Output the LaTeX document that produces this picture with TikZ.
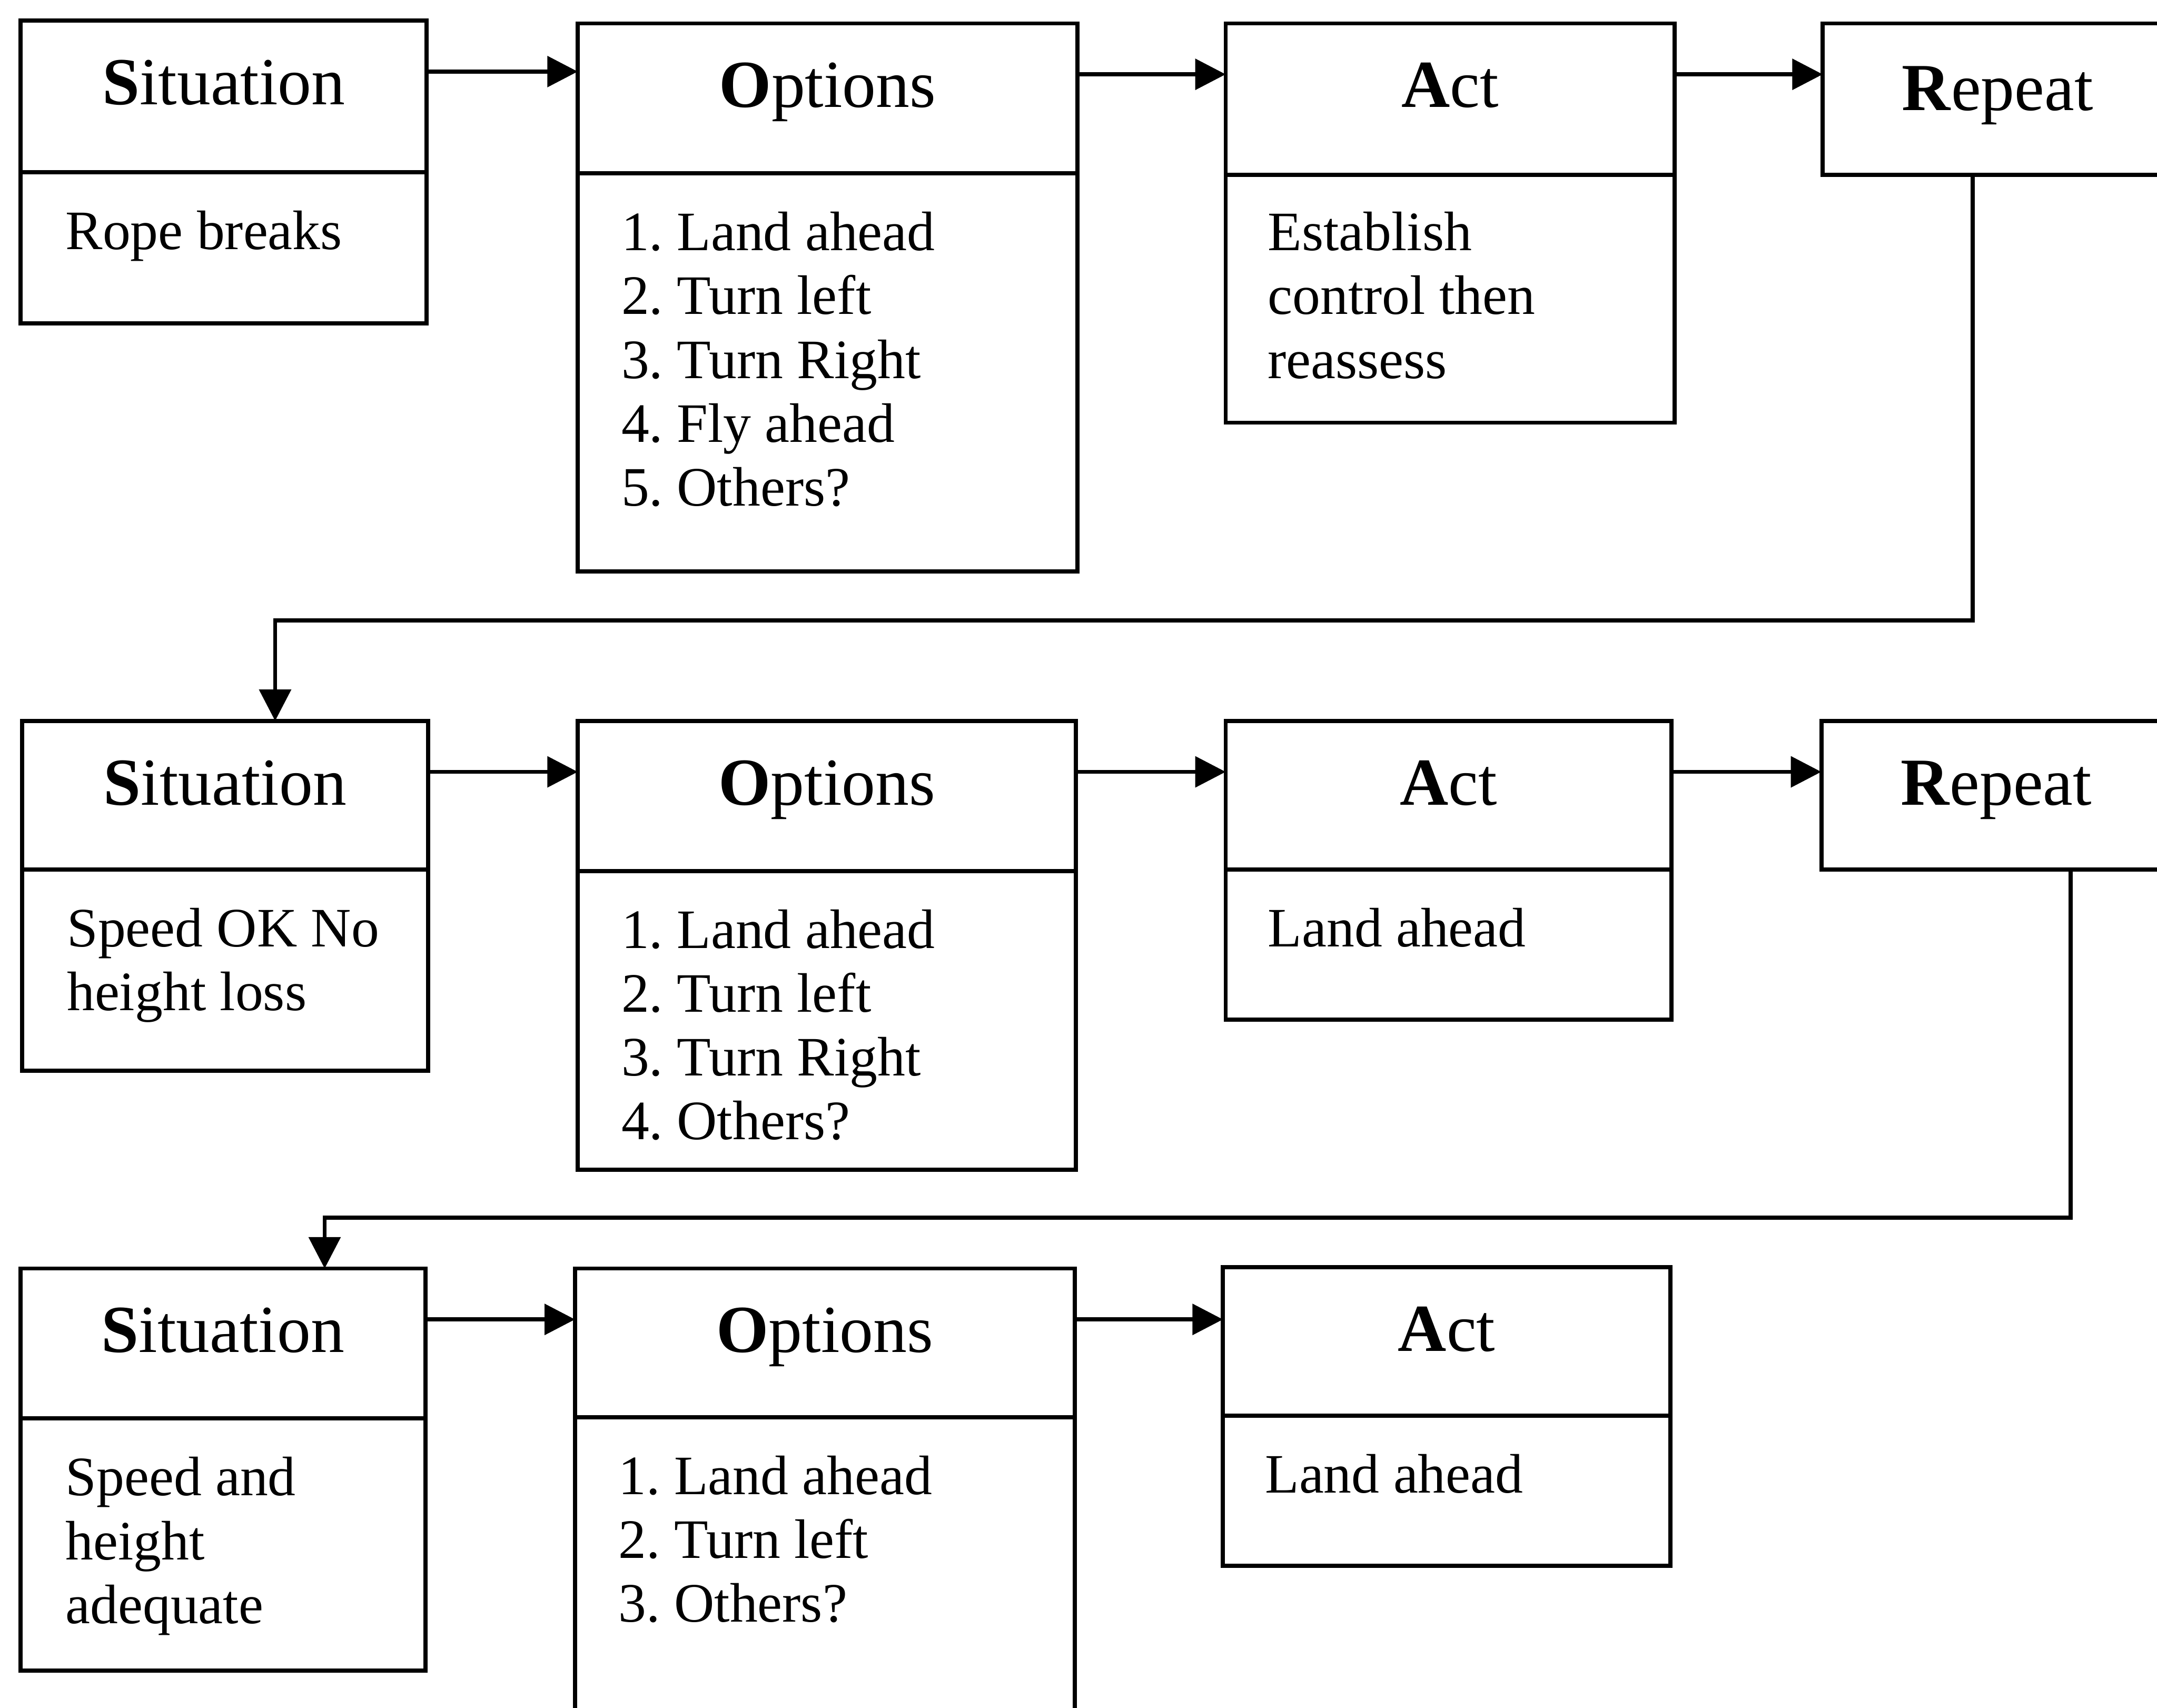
\documentclass[tikz,border=0pt]{standalone}
\usepackage{fontspec}
\setmainfont{Liberation Serif}
\usetikzlibrary{arrows.meta}

\newcommand{\ttlfont}{\fontsize{13.9}{16}\selectfont}
\newcommand{\bodyfont}{\fontsize{11.5}{13.2}\selectfont\frenchspacing}
% first-line baseline of a stack of left-aligned lines
\newcommand{\rows}[1]{\begin{tabular}[t]{@{}l@{}}#1\end{tabular}}

\begin{document}
\begin{tikzpicture}[x=0.01cm, y=-0.01cm,
  cell/.style={draw, line width=0.85pt, rectangle, inner sep=0pt, outer sep=0pt, minimum width=#1},
  ttl/.style={anchor=base, inner sep=0pt, font=\ttlfont},
  txt/.style={anchor=base west, inner sep=0pt, font=\bodyfont},
  arr/.style={line width=0.85pt, -{Triangle[length=6.3pt, width=6.3pt]}},
  back/.style={line width=0.85pt, -{Triangle[length=6.5pt, width=6.5pt]}}]

\useasboundingbox (0,0) rectangle (1568,1241.4);

% ---------- first pass ----------
\node[cell=2.95cm, minimum height=1.10cm, anchor=north west] (s1h) at (15,15) {};
\node[cell=2.95cm, minimum height=1.10cm, anchor=north] (s1b) at (s1h.south) {};
\node[ttl] (s1t) at ([yshift=-0.61cm]s1h.north) {\textbf{S}ituation};
\node[txt] (s1x) at ([xshift=0.32cm,yshift=-0.56cm]s1b.north west) {\rows{Rope breaks}};

\node[cell=3.63cm, minimum height=1.09cm, anchor=north west] (o1h) at (420,17) {};
\node[cell=3.63cm, minimum height=2.89cm, anchor=north] (o1b) at (o1h.south) {};
\node[ttl] (o1t) at ([yshift=-0.61cm]o1h.north) {\textbf{O}ptions};
\node[txt] (o1x) at ([xshift=0.31cm,yshift=-0.56cm]o1b.north west)
  {\rows{1. Land ahead\\2. Turn left\\3. Turn Right\\4. Fly ahead\\5. Others?}};

\node[cell=3.26cm, minimum height=1.10cm, anchor=north west] (a1h) at (891,17) {};
\node[cell=3.26cm, minimum height=1.80cm, anchor=north] (a1b) at (a1h.south) {};
\node[ttl] (a1t) at ([yshift=-0.61cm]a1h.north) {\textbf{A}ct};
\node[txt] (a1x) at ([xshift=0.30cm,yshift=-0.55cm]a1b.north west)
  {\rows{Establish\\control then\\reassess}};

\node[cell=2.54cm, minimum height=1.10cm, anchor=north west] (r1) at (1325,17) {};
\node[ttl] (r1t) at ([yshift=-0.63cm]r1.north) {\textbf{R}epeat};

\coordinate (p1) at ([yshift=-0.37cm]s1h.north east);
\draw[arr] (p1) -- (p1 -| o1h.west);
\coordinate (p2) at ([yshift=-0.37cm]o1h.north east);
\draw[arr] (p2) -- (p2 -| a1h.west);
\coordinate (p3) at ([yshift=-0.37cm]a1h.north east);
\draw[arr] (p3) -- (p3 -| r1.west);

% ---------- second pass ----------
\node[cell=2.95cm, minimum height=1.08cm, anchor=north west] (s2h) at (16,524) {};
\node[cell=2.95cm, minimum height=1.46cm, anchor=north] (s2b) at (s2h.south) {};
\node[ttl] (s2t) at ([yshift=-0.61cm]s2h.north) {\textbf{S}ituation};
\node[txt] (s2x) at ([xshift=0.32cm,yshift=-0.56cm]s2b.north west)
  {\rows{Speed OK No\\height loss}};

\node[cell=3.62cm, minimum height=1.09cm, anchor=north west] (o2h) at (420,524) {};
\node[cell=3.62cm, minimum height=2.17cm, anchor=north] (o2b) at (o2h.south) {};
\node[ttl] (o2t) at ([yshift=-0.61cm]o2h.north) {\textbf{O}ptions};
\node[txt] (o2x) at ([xshift=0.31cm,yshift=-0.56cm]o2b.north west)
  {\rows{1. Land ahead\\2. Turn left\\3. Turn Right\\4. Others?}};

\node[cell=3.24cm, minimum height=1.08cm, anchor=north west] (a2h) at (891,524) {};
\node[cell=3.24cm, minimum height=1.09cm, anchor=north] (a2b) at (a2h.south) {};
\node[ttl] (a2t) at ([yshift=-0.61cm]a2h.north) {\textbf{A}ct};
\node[txt] (a2x) at ([xshift=0.30cm,yshift=-0.56cm]a2b.north west) {\rows{Land ahead}};

\node[cell=2.54cm, minimum height=1.08cm, anchor=north west] (r2) at (1324,524) {};
\node[ttl] (r2t) at ([yshift=-0.61cm]r2.north) {\textbf{R}epeat};

\coordinate (q1) at ([yshift=-0.37cm]s2h.north east);
\draw[arr] (q1) -- (q1 -| o2h.west);
\coordinate (q2) at ([yshift=-0.37cm]o2h.north east);
\draw[arr] (q2) -- (q2 -| a2h.west);
\coordinate (q3) at ([yshift=-0.37cm]a2h.north east);
\draw[arr] (q3) -- (q3 -| r2.west);

% ---------- third pass ----------
\node[cell=2.94cm, minimum height=1.09cm, anchor=north west] (s3h) at (15,922) {};
\node[cell=2.94cm, minimum height=1.83cm, anchor=north] (s3b) at (s3h.south) {};
\node[ttl] (s3t) at ([yshift=-0.61cm]s3h.north) {\textbf{S}ituation};
\node[txt] (s3x) at ([xshift=0.32cm,yshift=-0.56cm]s3b.north west)
  {\rows{Speed and\\height\\adequate}};

\node[cell=3.63cm, minimum height=1.08cm, anchor=north west] (o3h) at (418,922) {};
\node[cell=3.63cm, minimum height=3.00cm, anchor=north] (o3b) at (o3h.south) {};
\node[ttl] (o3t) at ([yshift=-0.61cm]o3h.north) {\textbf{O}ptions};
\node[txt] (o3x) at ([xshift=0.31cm,yshift=-0.56cm]o3b.north west)
  {\rows{1. Land ahead\\2. Turn left\\3. Others?}};

\node[cell=3.25cm, minimum height=1.08cm, anchor=north west] (a3h) at (889,921) {};
\node[cell=3.25cm, minimum height=1.09cm, anchor=north] (a3b) at (a3h.south) {};
\node[ttl] (a3t) at ([yshift=-0.61cm]a3h.north) {\textbf{A}ct};
\node[txt] (a3x) at ([xshift=0.30cm,yshift=-0.56cm]a3b.north west) {\rows{Land ahead}};

\coordinate (u1) at ([yshift=-0.37cm]s3h.north east);
\draw[arr] (u1) -- (u1 -| o3h.west);
\coordinate (u2) at ([yshift=-0.37cm]o3h.north east);
\draw[arr] (u2) -- (u2 -| a3h.west);

% ---------- loops back to the next situation ----------
\coordinate (r1x) at ([xshift=1.09cm]r1.south west);
\coordinate (k1) at (200,451);
\draw[back] (r1x) |- (k1) -- (k1 |- s2h.north);

\coordinate (r2x) at ([xshift=1.81cm]r2.south west);
\coordinate (k2) at (236,885);
\draw[back] (r2x) |- (k2) -- (k2 |- s3h.north);

\end{tikzpicture}
\end{document}
